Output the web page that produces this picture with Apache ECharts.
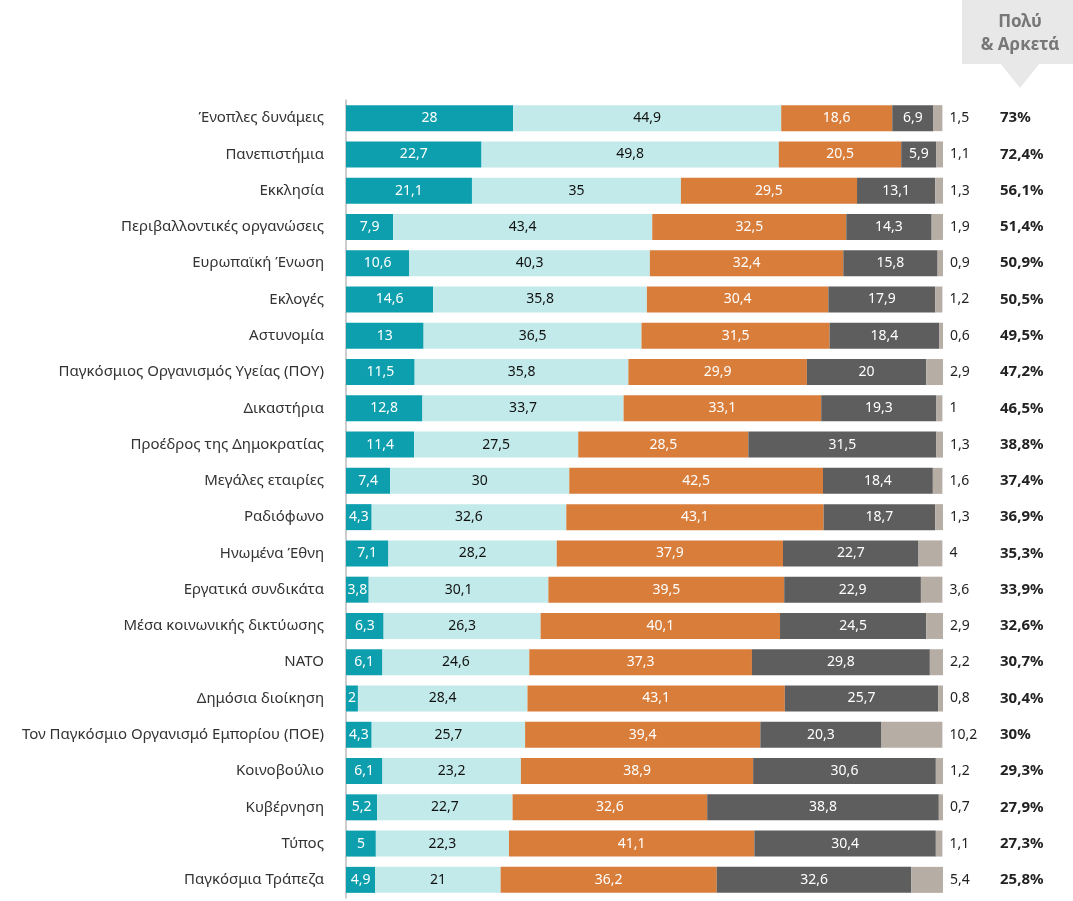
<!DOCTYPE html>
<html>
<head>
<meta charset="utf-8">
<script src="https://cdn.jsdelivr.net/npm/echarts@6/dist/echarts.min.js"></script>
<style>
  html, body { margin: 0; padding: 0; background: #fff; }
  #main { width: 1073px; height: 901px; }
</style>
</head>
<body>
<div id="main"></div>
<script>
const categories = [
  'Ένοπλες δυνάμεις', 'Πανεπιστήμια', 'Εκκλησία', 'Περιβαλλοντικές οργανώσεις',
  'Ευρωπαϊκή Ένωση', 'Εκλογές', 'Αστυνομία', 'Παγκόσμιος Οργανισμός Υγείας (ΠΟΥ)',
  'Δικαστήρια', 'Προέδρος της Δημοκρατίας', 'Μεγάλες εταιρίες', 'Ραδιόφωνο',
  'Ηνωμένα Έθνη', 'Εργατικά συνδικάτα', 'Μέσα κοινωνικής δικτύωσης', 'ΝΑΤΟ',
  'Δημόσια διοίκηση', 'Τον Παγκόσμιο Οργανισμό Εμπορίου (ΠΟΕ)', 'Κοινοβούλιο',
  'Κυβέρνηση', 'Τύπος', 'Παγκόσμια Τράπεζα'
];
const poly   = [28, 22.7, 21.1, 7.9, 10.6, 14.6, 13, 11.5, 12.8, 11.4, 7.4, 4.3, 7.1, 3.8, 6.3, 6.1, 2, 4.3, 6.1, 5.2, 5, 4.9];
const arketa = [44.9, 49.8, 35, 43.4, 40.3, 35.8, 36.5, 35.8, 33.7, 27.5, 30, 32.6, 28.2, 30.1, 26.3, 24.6, 28.4, 25.7, 23.2, 22.7, 22.3, 21];
const ligo   = [18.6, 20.5, 29.5, 32.5, 32.4, 30.4, 31.5, 29.9, 33.1, 28.5, 42.5, 43.1, 37.9, 39.5, 40.1, 37.3, 43.1, 39.4, 38.9, 32.6, 41.1, 36.2];
const kathol = [6.9, 5.9, 13.1, 14.3, 15.8, 17.9, 18.4, 20, 19.3, 31.5, 18.4, 18.7, 22.7, 22.9, 24.5, 29.8, 25.7, 20.3, 30.6, 38.8, 30.4, 32.6];
const dk     = [1.5, 1.1, 1.3, 1.9, 0.9, 1.2, 0.6, 2.9, 1, 1.3, 1.6, 1.3, 4, 3.6, 2.9, 2.2, 0.8, 10.2, 1.2, 0.7, 1.1, 5.4];
const totals = ['73%', '72,4%', '56,1%', '51,4%', '50,9%', '50,5%', '49,5%', '47,2%', '46,5%', '38,8%', '37,4%',
  '36,9%', '35,3%', '33,9%', '32,6%', '30,7%', '30,4%', '30%', '29,3%', '27,9%', '27,3%', '25,8%'];

const FONT = '"Noto Sans", sans-serif';
const fmt = p => String(p.value).replace('.', ',');

function seg(name, data, color, textColor, labelPos) {
  return {
    name, type: 'bar', stack: 'all', data, barWidth: 26,
    itemStyle: { color },
    label: {
      show: true, position: labelPos || 'inside', formatter: fmt,
      color: textColor, fontSize: 14, fontFamily: FONT,
      distance: 7, align: labelPos ? 'left' : 'center'
    },
    emphasis: { disabled: true }
  };
}

const chart = echarts.init(document.getElementById('main'));
chart.setOption({
  animation: false,
  textStyle: { fontFamily: FONT },
  grid: { left: 346, right: 130, top: 100, bottom: 3, containLabel: false },
  xAxis: { type: 'value', min: 0, max: 100, show: false },
  yAxis: [{
    type: 'category', data: categories, inverse: true,
    axisLine: { show: true, lineStyle: { color: '#bdbdbd', width: 1.5 } },
    axisTick: { show: false },
    axisLabel: { color: '#333', fontSize: 15, margin: 22, fontFamily: FONT }
  }, {
    type: 'category', data: totals, inverse: true, position: 'right',
    axisLine: { show: false }, axisTick: { show: false },
    axisLabel: { color: '#222', fontSize: 15, fontWeight: 'bold', margin: 57, align: 'left', fontFamily: FONT }
  }],
  series: [
    seg('Πολύ', poly, '#0e9fae', '#fff'),
    seg('Αρκετά', arketa, '#c3eaea', '#111'),
    seg('Λίγο', ligo, '#d97d3b', '#fff'),
    seg('Καθόλου', kathol, '#5e5e5e', '#fff'),
    seg('ΔΓ/ΔΑ', dk, '#b6ada5', '#222', 'right')
  ],
  graphic: [
    { type: 'rect', shape: { x: 962, y: 0, width: 111, height: 64 }, style: { fill: '#e8e8e8' } },
    { type: 'polygon', shape: { points: [[1000, 63], [1040, 63], [1020, 88]] }, style: { fill: '#e8e8e8' } },
    { type: 'text', style: { x: 1020, y: 22, text: 'Πολύ', align: 'center', verticalAlign: 'middle',
      fill: '#777', font: 'bold 17px "Noto Sans", sans-serif' } },
    { type: 'text', style: { x: 1020, y: 45, text: '& Αρκετά', align: 'center', verticalAlign: 'middle',
      fill: '#777', font: 'bold 17px "Noto Sans", sans-serif' } }
  ]
});
window.onresize = () => chart.resize();
</script>
</body>
</html>
